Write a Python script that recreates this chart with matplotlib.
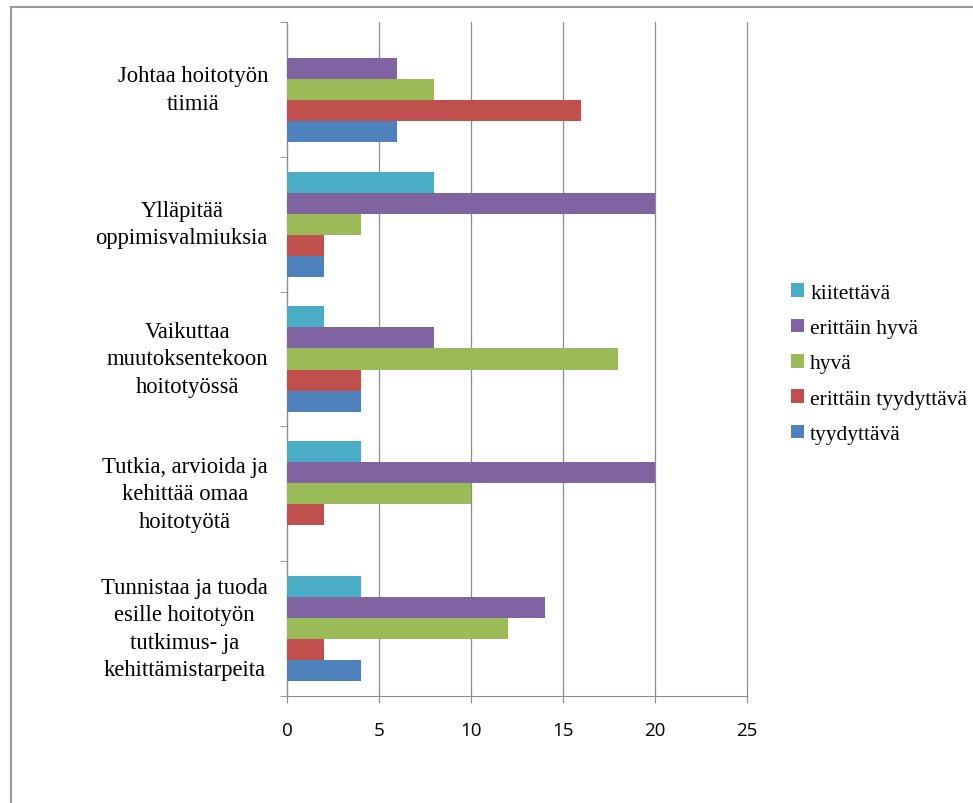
import matplotlib.pyplot as plt
import numpy as np
from matplotlib.patches import Rectangle
from matplotlib.transforms import blended_transform_factory, offset_copy

categories = [
    'Tunnistaa ja tuoda\nesille hoitotyön\ntutkimus- ja\nkehittämistarpeita',
    'Tutkia, arvioida ja\nkehittää omaa\nhoitotyötä',
    'Vaikuttaa\nmuutoksentekoon\nhoitotyössä',
    'Ylläpitää\noppimisvalmiuksia',
    'Johtaa hoitotyön\ntiimiä',
]
series = ['tyydyttävä', 'erittäin tyydyttävä', 'hyvä', 'erittäin hyvä', 'kiitettävä']
tyydyttava = [4, 0, 4, 2, 6]
erittain_tyydyttava = [2, 2, 4, 2, 16]
hyva = [12, 10, 18, 4, 8]
erittain_hyva = [14, 20, 8, 20, 6]
kiitettava = [4, 4, 2, 8, 0]
values = [tyydyttava, erittain_tyydyttava, hyva, erittain_hyva, kiitettava]
colors = ['#4F81BD', '#C0504D', '#9BBB59', '#8064A2', '#4BACC6']

fig = plt.figure(figsize=(9.73, 8.04), dpi=100)
ax = fig.add_axes([287/973, 1 - 697/804, 460/973, 674/804])

# outer chart border (cropped at right and bottom like the reference)
fig.patches.append(Rectangle((11/973, -0.1), 1.2, 1 - 8/804 + 0.1,
                             transform=fig.transFigure, fill=False,
                             edgecolor='#9a9a9a', linewidth=1.5))

y = np.arange(len(categories))
h = 0.156
for i, (name, vals, c) in enumerate(zip(series, values, colors)):
    ax.barh(y + (i - 2) * h, vals, height=h, color=c, label=name, zorder=3)

ax.set_xlim(0, 25)
ax.set_ylim(-0.5, 4.5)
ax.set_xticks(range(0, 26, 5))
ax.set_yticks(y)
ax.set_yticklabels([])
ax.set_yticks(np.arange(-0.5, 5, 1), minor=True)
ax.tick_params(axis='y', which='major', length=0)
ax.tick_params(axis='y', which='minor', length=5, color='#8c8c8c', direction='out')
ax.tick_params(axis='x', length=5, color='#8c8c8c', pad=13, labelsize=13.5)
for lbl in ax.get_xticklabels():
    lbl.set_family('Open Sans')

# category labels as centred multi-line text
trans = offset_copy(blended_transform_factory(ax.transAxes, ax.transData),
                    fig=fig, x=-19, y=0, units='dots')
for yi, cat in zip(y, categories):
    ax.text(0, yi, cat, transform=trans, ha='right', va='center',
            multialignment='center', linespacing=1.4,
            family='Liberation Serif', fontsize=16.3)

ax.grid(axis='x', color='#8c8c8c', linewidth=0.9, zorder=0)
for gl in ax.get_xgridlines():
    gl.set_clip_on(False)
for s in ['top', 'right']:
    ax.spines[s].set_visible(False)
for s in ['left', 'bottom']:
    ax.spines[s].set_color('#8c8c8c')

handles, labels = ax.get_legend_handles_labels()
ax.legend(handles[::-1], labels[::-1], loc='center left', bbox_to_anchor=(1.054, 0.493),
          frameon=False, prop={'family': 'Liberation Serif', 'size': 15.5},
          handlelength=0.6, handleheight=0.6, handletextpad=0.28, labelspacing=0.74)

fig.savefig('out.png', dpi=100)
